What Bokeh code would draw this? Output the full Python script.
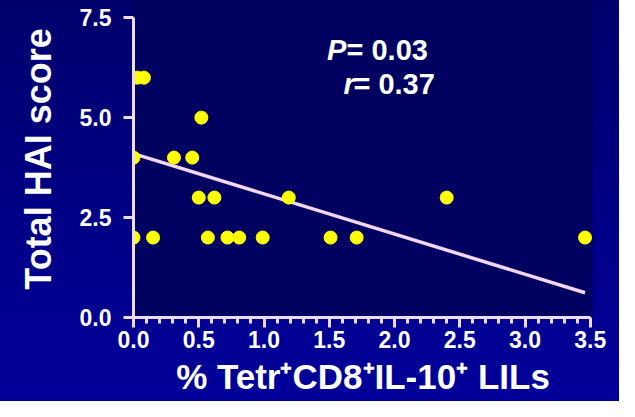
from bokeh.plotting import figure
from bokeh.models import Range1d, FixedTicker, PrintfTickFormatter, Label, ColumnDataSource
from bokeh.embed import file_html
from bokeh.resources import INLINE

# ---- data ----
tetr_pct = [0.00, 0.00, 0.03, 0.08, 0.15, 0.31, 0.45, 0.52, 0.50, 0.62,
            0.57, 0.72, 0.81, 0.99, 1.19, 1.51, 1.71, 2.40, 3.46]
hai_score = [4, 2, 6, 6, 2, 4, 4, 5, 3, 3,
             2, 2, 2, 2, 3, 2, 2, 3, 2]
fit_x = [0.0, 3.46]
fit_y = [4.1, 0.62]
x_ticks = [0.0, 0.5, 1.0, 1.5, 2.0, 2.5, 3.0, 3.5]
x_minor = [round(i * 0.1, 1) for i in range(36) if i % 5 != 0]
y_ticks = [0.0, 2.5, 5.0, 7.5]
p_value_text = "= 0.03"
r_value_text = "= 0.37"
x_label = "% Tetr\u207aCD8\u207aIL-10\u207a LILs"
y_label = "Total HAI score"

FONT = "Liberation Sans"
AXIS_COL = "#f0dcf0"

p = figure(width=619, height=401, output_backend="svg", toolbar_location=None,
           x_range=Range1d(0, 3.517), y_range=Range1d(0, 7.93),
           min_border_left=133, min_border_right=27, min_border_top=0,
           min_border_bottom=84)
p.styles = {"background": "linear-gradient(180deg, #00006c 0%, #000084 50%, #00009a 100%)"}
p.border_fill_alpha = 0
p.background_fill_color = "#000060"
p.outline_line_color = None
p.grid.visible = False

src = ColumnDataSource(dict(x=tetr_pct, y=hai_score))
p.line(fit_x, fit_y, line_color="#f2d6f2", line_width=3.5)
p.scatter("x", "y", source=src, size=13, fill_color="#ffff00", line_color="#ffff00")

for ax in (p.xaxis[0], p.yaxis[0]):
    ax.axis_line_color = AXIS_COL
    ax.axis_line_width = 3
    ax.major_tick_line_color = AXIS_COL
    ax.major_tick_line_width = 3
    ax.minor_tick_line_color = AXIS_COL
    ax.minor_tick_line_width = 3
    ax.major_tick_in = 0
    ax.major_tick_out = 10
    ax.minor_tick_in = 0
    ax.major_label_text_font = FONT
    ax.major_label_text_font_style = "bold"
    ax.major_label_text_font_size = "23px"
    ax.major_label_text_color = "white"
    ax.axis_label_text_font = FONT
    ax.axis_label_text_font_style = "bold"
    ax.axis_label_text_color = "white"
    ax.formatter = PrintfTickFormatter(format="%.1f")

xa = p.xaxis[0]
xa.ticker = FixedTicker(ticks=x_ticks, minor_ticks=x_minor)
xa.bounds = (0, 3.5)
xa.minor_tick_out = 6
xa.major_label_standoff = 3
xa.axis_label = x_label
xa.axis_label_text_font_size = "35px"
xa.axis_label_standoff = 6

ya = p.yaxis[0]
ya.ticker = FixedTicker(ticks=y_ticks, minor_ticks=[])
ya.bounds = (0, 7.5)
ya.minor_tick_out = 0
ya.major_label_standoff = 12
ya.axis_label = y_label
ya.axis_label_text_font_size = "36px"
ya.axis_label_standoff = 18

lab_kw = dict(text_font=FONT, text_font_size="29px", text_color="white",
              text_baseline="middle")
p.add_layout(Label(x=1.483, y=6.68, text="P", text_font_style="bold italic", **lab_kw))
p.add_layout(Label(x=1.632, y=6.68, text=p_value_text, text_font_style="bold", **lab_kw))
p.add_layout(Label(x=1.61, y=5.84, text="r", text_font_style="bold italic", **lab_kw))
p.add_layout(Label(x=1.685, y=5.84, text=r_value_text, text_font_style="bold", **lab_kw))

open("out.html", "w").write(file_html(p, INLINE))
